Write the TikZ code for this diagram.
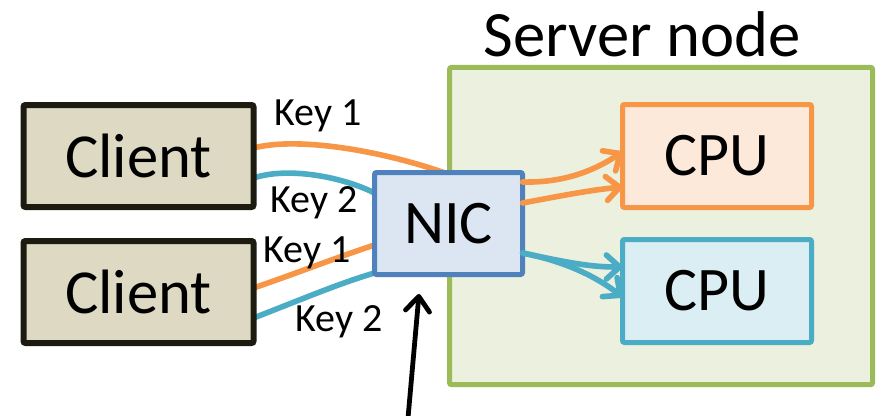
\documentclass[tikz,border=0pt]{standalone}
\usepackage{fontspec}
\setmainfont{Carlito}
\usetikzlibrary{calc,arrows.meta}
\pgfdeclarelayer{bottomlayer}
\pgfdeclarelayer{midlayer}
\pgfsetlayers{bottomlayer,midlayer,main}
\definecolor{cOrange}{HTML}{F79646}
\definecolor{cOrangeFill}{HTML}{FDE9D9}
\definecolor{cBlue}{HTML}{4BACC6}
\definecolor{cBlueFill}{HTML}{DBEEF4}
\definecolor{cNic}{HTML}{4F81BD}
\definecolor{cNicFill}{HTML}{DCE6F2}
\definecolor{cGreen}{HTML}{9BBB59}
\definecolor{cGreenFill}{HTML}{EBF1DE}
\definecolor{cClient}{HTML}{DDD9C3}
\definecolor{cClientLine}{HTML}{1D1B10}
\tikzset{
  box/.style={rectangle, inner sep=0pt, outer sep=0pt, rounded corners=1.5pt},
  clientbox/.style={box, draw=cClientLine, fill=cClient, line width=4.5pt,
     minimum width=172.5pt, minimum height=76.5pt, font=\fontsize{47}{50}\selectfont},
  cpubox/.style={box, line width=3.75pt, minimum width=141.75pt, minimum height=77.25pt,
     font=\fontsize{46.5}{50}\selectfont},
  nicbox/.style={box, draw=cNic, fill=cNicFill, line width=3.75pt,
     minimum width=111pt, minimum height=76.5pt, font=\fontsize{46.5}{50}\selectfont},
  serverbox/.style={box, draw=cGreen, fill=cGreenFill, line width=3.75pt,
     minimum width=317.25pt, minimum height=238pt},
  keylabel/.style={inner sep=0pt, font=\fontsize{30}{32}\selectfont},
  flow/.style={line width=4.2pt, line cap=round},
  flowarrow/.style={flow, -{Straight Barb[length=10pt,width=18pt,line cap=round,round]}},
}
\begin{document}
\begin{tikzpicture}[x=0.75pt,y=-0.75pt]
\useasboundingbox (0,0) rectangle (877,415);

\begin{pgfonlayer}{bottomlayer}
\node[serverbox] (server) at (661,226) {};
\end{pgfonlayer}
\node[inner sep=0pt, font=\fontsize{48.5}{52}\selectfont] (servertitle) at (642,34) {Server node};

\node[clientbox] (c1) at (138.5,156) {Client};
\node[clientbox] (c2) at (138.5,292) {Client};
\node[cpubox, draw=cOrange, fill=cOrangeFill] (cpu1) at (717,156) {CPU};
\node[cpubox, draw=cBlue, fill=cBlueFill] (cpu2) at (717,291) {CPU};
\node[nicbox] (nic) at (448.5,223.5) {NIC};

% client -> NIC flows (behind the boxes)
\begin{pgfonlayer}{midlayer}
\draw[flow, cOrange] ($(c1.east)+(0,-8)$) .. controls (300,136) and (385,152) .. ($(nic.north)+(-5,0)$);
\draw[flow, cBlue] ($(c1.east)+(0,22)$) .. controls (290,166) and (345,178) .. ($(nic.west)+(0,-30.5)$);
\draw[flow, cOrange] ($(c2.east)+(0,-4)$) .. controls (300,272) and (335,258) .. ($(nic.west)+(0,21.5)$);
\draw[flow, cBlue] ($(c2.east)+(0,26)$) .. controls (300,300) and (340,283) .. ($(nic.west)+(0,49.5)$);
\end{pgfonlayer}

% NIC -> CPU flows
\draw[flowarrow, cOrange] ($(nic.east)+(0,-41.5)$) .. controls (565,183) and (595,170) .. ($(cpu1.west)+(0,-4)$);
\draw[flowarrow, cOrange] ($(nic.east)+(0,-20.5)$) .. controls (560,196) and (590,190) .. ($(cpu1.west)+(0,31)$);
\draw[flowarrow, cBlue] ($(nic.east)+(0,29.5)$) .. controls (570,263) and (590,267) .. ($(cpu2.west)+(0,-24)$);
\draw[flowarrow, cBlue] ($(nic.east)+(0,29.5)$) .. controls (568,262) and (598,278) .. ($(cpu2.west)+(0,6)$);

% labels
\node[keylabel] (k1a) at (318,116) {Key 1};
\node[keylabel] (k2a) at (314,203) {Key 2};
\node[keylabel] (k1b) at (307,253) {Key 1};
\node[keylabel] (k2b) at (339,322) {Key 2};

% black pointer arrow
\coordinate (ptrstart) at (408,418);
\coordinate (ptrend) at (419,294);
\draw[line width=3.6pt, -{Straight Barb[length=11pt,width=18pt,line cap=round,round]}] (ptrstart) -- (ptrend);
\end{tikzpicture}
\end{document}
